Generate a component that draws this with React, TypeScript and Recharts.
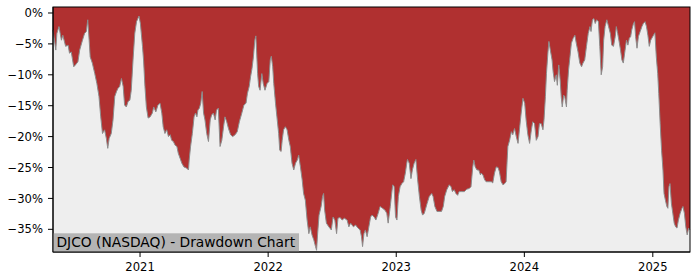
import React from 'react';
import { AreaChart, Area, XAxis, YAxis, CartesianGrid } from 'recharts';

const dates: string[] = [
  '2020-04-28','2020-05-06','2020-05-09','2020-05-15','2020-05-22','2020-05-26','2020-06-03','2020-06-10','2020-06-14','2020-06-19',
  '2020-06-26','2020-07-01','2020-07-08','2020-07-13','2020-07-21','2020-07-27','2020-08-01','2020-08-05','2020-08-09','2020-08-12',
  '2020-08-18','2020-08-25','2020-08-31','2020-09-06','2020-09-11','2020-09-16','2020-09-22','2020-09-27','2020-10-01','2020-10-05',
  '2020-10-11','2020-10-16','2020-10-21','2020-10-26','2020-10-30','2020-11-04','2020-11-09','2020-11-14','2020-11-18','2020-11-23',
  '2020-11-28','2020-12-03','2020-12-07','2020-12-12','2020-12-17','2020-12-22','2020-12-29','2021-01-02','2021-01-08','2021-01-11',
  '2021-01-15','2021-01-19','2021-01-24','2021-01-30','2021-02-05','2021-02-09','2021-02-15','2021-02-21','2021-02-27',
  '2021-03-04','2021-03-08','2021-03-13','2021-03-18','2021-03-23','2021-03-28','2021-04-01','2021-04-06','2021-04-11','2021-04-16',
  '2021-04-20','2021-04-25','2021-04-30','2021-05-06','2021-05-14','2021-05-19','2021-05-21','2021-05-25','2021-05-30','2021-06-04',
  '2021-06-08','2021-06-12','2021-06-15','2021-06-19','2021-06-23','2021-06-27','2021-07-01','2021-07-05','2021-07-10','2021-07-15',
  '2021-07-20','2021-07-24','2021-07-29','2021-08-03','2021-08-07','2021-08-12','2021-08-17','2021-08-22','2021-08-27','2021-08-31',
  '2021-09-05','2021-09-10','2021-09-16','2021-09-22','2021-09-29','2021-10-05','2021-10-11','2021-10-18','2021-10-24','2021-10-30',
  '2021-11-03','2021-11-08','2021-11-12','2021-11-16','2021-11-20','2021-11-24','2021-11-27','2021-11-29','2021-12-02','2021-12-05',
  '2021-12-09','2021-12-14','2021-12-18','2021-12-23','2021-12-29',
  '2022-01-03','2022-01-07','2022-01-10','2022-01-14','2022-01-17','2022-01-22','2022-01-26','2022-01-31','2022-02-03','2022-02-07',
  '2022-02-10','2022-02-14','2022-02-19','2022-02-24','2022-03-01','2022-03-05','2022-03-10','2022-03-15','2022-03-20','2022-03-25',
  '2022-03-29','2022-04-03','2022-04-08','2022-04-12','2022-04-17','2022-04-22','2022-04-27','2022-05-01','2022-05-06','2022-05-11',
  '2022-05-16','2022-05-19','2022-05-22','2022-05-26','2022-06-01','2022-06-05','2022-06-08','2022-06-11','2022-06-16','2022-06-23',
  '2022-06-30','2022-07-05','2022-07-10','2022-07-15','2022-07-19','2022-07-25','2022-07-31','2022-08-06','2022-08-14','2022-08-19',
  '2022-08-24','2022-09-01','2022-09-07','2022-09-14','2022-09-20','2022-09-24','2022-09-27','2022-10-01','2022-10-05','2022-10-10',
  '2022-10-15','2022-10-20','2022-10-24','2022-10-30',
  '2022-11-04','2022-11-10','2022-11-16','2022-11-23','2022-11-30','2022-12-05','2022-12-09','2022-12-15','2022-12-19','2022-12-22',
  '2022-12-26','2022-12-30','2023-01-03','2023-01-07','2023-01-12','2023-01-17','2023-01-22','2023-01-27','2023-01-31','2023-02-02',
  '2023-02-07','2023-02-12','2023-02-16','2023-02-21','2023-02-26','2023-03-03','2023-03-08','2023-03-13','2023-03-17','2023-03-22',
  '2023-03-30','2023-04-05','2023-04-12','2023-04-16','2023-04-21','2023-04-27','2023-05-03','2023-05-10','2023-05-15','2023-05-19',
  '2023-05-25','2023-06-01','2023-06-06','2023-06-10','2023-06-15','2023-06-20','2023-06-25','2023-06-29','2023-07-06','2023-07-14',
  '2023-07-21','2023-07-28','2023-08-02','2023-08-07','2023-08-10','2023-08-14','2023-08-19','2023-08-24','2023-08-29','2023-08-31',
  '2023-09-05','2023-09-10','2023-09-14','2023-09-21','2023-09-29','2023-10-03','2023-10-08','2023-10-13','2023-10-18','2023-10-22',
  '2023-10-27','2023-11-01','2023-11-06','2023-11-10','2023-11-13','2023-11-15','2023-11-20','2023-11-25','2023-11-29','2023-12-04',
  '2023-12-09','2023-12-14','2023-12-18','2023-12-23','2023-12-28','2024-01-02','2024-01-06','2024-01-11','2024-01-16','2024-01-21',
  '2024-01-25','2024-01-30','2024-02-04','2024-02-09','2024-02-13','2024-02-18','2024-02-23','2024-02-26','2024-03-01','2024-03-04',
  '2024-03-08','2024-03-11','2024-03-15','2024-03-20','2024-03-23','2024-03-27','2024-04-01','2024-04-04','2024-04-08','2024-04-12',
  '2024-04-15','2024-04-18','2024-04-22','2024-04-25','2024-04-30','2024-05-02','2024-05-06','2024-05-10','2024-05-14','2024-05-19',
  '2024-05-24','2024-05-28','2024-06-02','2024-06-07','2024-06-12','2024-06-16','2024-06-21','2024-06-26','2024-07-01',
  '2024-07-06','2024-07-09','2024-07-13','2024-07-17','2024-07-21','2024-07-25','2024-07-30','2024-08-03','2024-08-07','2024-08-11',
  '2024-08-14','2024-08-18','2024-08-23','2024-08-28','2024-09-02','2024-09-06','2024-09-11','2024-09-16','2024-09-19','2024-09-23',
  '2024-09-27','2024-10-01','2024-10-05','2024-10-09','2024-10-14','2024-10-18','2024-10-22','2024-10-26','2024-10-30','2024-11-02',
  '2024-11-07','2024-11-10','2024-11-13','2024-11-17','2024-11-21','2024-11-26','2024-12-01','2024-12-05','2024-12-10','2024-12-14',
  '2024-12-18','2024-12-22','2024-12-26','2024-12-29','2025-01-03','2025-01-07','2025-01-11','2025-01-15','2025-01-18','2025-01-22',
  '2025-01-26','2025-01-30','2025-02-02','2025-02-06','2025-02-10','2025-02-13','2025-02-16','2025-02-19','2025-02-23','2025-02-27',
  '2025-03-03','2025-03-07','2025-03-11','2025-03-15','2025-03-20','2025-03-25','2025-03-28','2025-04-01','2025-04-05','2025-04-09',
  '2025-04-13','2025-04-17',
];

const drawdown: number[] = [
  -2.75,-6.0,-3.3,-2.2,-4.4,-3.6,-5.4,-5.2,-6.5,-6.3,
  -8.7,-8.4,-7.9,-6.0,-4.4,-3.3,-3.0,-1.1,-4.4,-7.1,
  -8.1,-9.8,-11.4,-13.5,-16.8,-19.5,-18.9,-20.3,-21.9,-20.3,
  -19.5,-17.3,-13.5,-12.7,-12.2,-11.9,-10.6,-11.9,-14.9,-15.2,
  -14.3,-14.1,-12.5,-7.6,-3.3,-1.4,-0.5,-1.7,-5.4,-7.6,
  -11.9,-15.2,-17.0,-16.8,-16.2,-15.2,-16.0,-14.9,-14.6,
  -16.2,-18.4,-19.5,-18.9,-20.0,-19.7,-20.6,-20.8,-21.4,-21.6,
  -22.7,-23.5,-24.3,-24.9,-25.1,-25.4,-23.8,-21.6,-19.5,-16.8,
  -16.2,-16.8,-15.7,-15.4,-14.6,-12.7,-16.2,-17.3,-19.5,-20.8,
  -17.3,-16.5,-16.2,-17.3,-15.7,-15.4,-21.6,-20.6,-18.4,-16.8,
  -17.6,-18.7,-19.7,-20.0,-19.7,-19.2,-17.6,-16.2,-14.9,-14.6,
  -13.0,-11.9,-10.3,-9.0,-7.1,-4.4,-3.7,-6.0,-9.8,-11.9,
  -12.5,-9.8,-11.4,-12.5,-11.4,
  -11.1,-7.6,-7.0,-8.7,-11.4,-14.6,-16.8,-19.5,-22.2,-22.4,
  -20.6,-18.9,-18.4,-18.9,-20.6,-21.6,-24.3,-25.4,-24.3,-23.8,
  -23.0,-24.9,-27.0,-29.2,-30.3,-33.5,-35.7,-34.6,-35.9,-36.7,
  -37.8,-38.4,-35.7,-32.7,-31.3,-29.7,-29.2,-31.9,-34.0,-34.6,
  -35.1,-33.0,-33.5,-35.7,-33.2,-33.1,-33.5,-33.2,-33.5,-34.6,
  -34.0,-34.6,-34.3,-34.8,-35.1,-36.2,-37.8,-35.7,-35.1,-36.2,
  -34.6,-33.0,-32.7,-33.0,
  -33.5,-32.5,-31.3,-31.6,-31.9,-32.4,-34.0,-31.3,-29.2,-27.8,
  -28.1,-33.0,-33.5,-29.7,-28.1,-27.6,-27.3,-25.9,-24.3,-23.7,
  -24.3,-26.8,-25.4,-24.3,-23.7,-27.0,-29.7,-31.9,-32.7,-32.4,
  -30.8,-29.7,-29.2,-29.7,-31.3,-32.1,-32.1,-32.1,-31.3,-29.7,
  -28.6,-27.8,-28.1,-28.9,-28.6,-29.2,-29.5,-28.9,-28.9,-28.9,
  -28.5,-28.4,-28.1,-24.9,-23.8,-24.9,-25.4,-25.4,-26.2,-25.9,
  -26.2,-27.0,-27.3,-27.3,-27.3,-27.5,-25.9,-24.9,-25.0,-25.7,
  -27.3,-27.8,-27.6,-27.3,-23.8,-21.6,-20.6,-19.2,-19.7,-18.7,
  -20.0,-21.1,-18.9,-16.2,-13.8,-14.6,-17.3,-19.7,-21.1,-18.9,
  -17.6,-17.9,-20.6,-20.0,-17.9,-17.9,-18.9,-17.3,-13.5,-9.8,
  -6.5,-4.6,-6.0,-7.6,-9.5,-11.1,-10.0,-11.7,-8.4,-10.8,
  -13.5,-15.2,-13.3,-13.5,-15.2,-12.5,-9.2,-7.1,-4.9,-4.1,
  -3.6,-4.9,-6.3,-8.1,-8.7,-8.1,-7.6,-5.4,-3.3,
  -2.2,-3.0,-1.1,-0.9,-1.7,-1.1,-1.4,-5.4,-10.0,-8.7,
  -4.4,-2.2,-1.1,-2.2,-3.3,-5.2,-5.4,-3.8,-2.2,-3.3,
  -4.6,-6.0,-7.6,-8.1,-6.0,-4.4,-5.2,-4.1,-3.8,-2.75,
  -1.7,-1.4,-3.8,-5.7,-3.8,-3.0,-2.2,-1.7,-1.4,-2.2,
  -3.6,-5.4,-4.4,-4.1,-3.6,-3.2,-7.1,-9.8,-13.0,-17.9,
  -22.2,-25.4,-29.2,-30.3,-31.3,-31.6,-28.1,-27.6,-30.8,-32.4,
  -34.0,-34.6,-34.8,-33.5,-32.4,-31.6,-31.3,-32.4,-34.6,-35.9,
  -34.8,-35.1,
];

const yearTicks: string[] = ['2021-01-01', '2022-01-01', '2023-01-01', '2024-01-01', '2025-01-01'];
const percentTicks: number[] = [0, -5, -10, -15, -20, -25, -30, -35];
const title = 'DJCO (NASDAQ) - Drawdown Chart';

const data = dates.map((d, i) => ({ t: Date.parse(d), dd: drawdown[i] }));
const xTicks = yearTicks.map((d) => Date.parse(d));

const Y_MIN = -38.67;
const Y_MAX = 0.97;
const FONT = 'DejaVu Sans, sans-serif';

const fmtPct = (v: number) => (v < 0 ? '\u2212' + Math.abs(v) + '%' : v + '%');
const fmtYear = (v: number) => String(new Date(v).getUTCFullYear());

// plot frame (matches the chart margins below)
const PLOT = { left: 53, top: 7, right: 690, bottom: 252 };

export default function App() {
  return (
    <div style={{ position: 'absolute', left: 0, top: 0, width: 700, height: 280, background: '#fff' }}>
      <AreaChart width={700} height={280} data={data} margin={{ top: PLOT.top, right: 700 - PLOT.right, bottom: 0, left: 0 }}>
        <CartesianGrid fill="#b03030" horizontal={false} vertical={false} />
        <XAxis
          dataKey="t"
          type="number"
          scale="time"
          domain={['dataMin', 'dataMax']}
          ticks={xTicks}
          tickFormatter={fmtYear}
          height={280 - PLOT.bottom}
          tickSize={5}
          tickMargin={6}
          stroke="#000"
          tick={{ fill: '#000', fontSize: 11.6, fontFamily: FONT }}
          tickLine={{ stroke: '#000' }}
          axisLine={{ stroke: '#000' }}
        />
        <YAxis
          type="number"
          domain={[Y_MIN, Y_MAX]}
          allowDataOverflow
          ticks={percentTicks}
          tickFormatter={fmtPct}
          width={PLOT.left}
          tickSize={5}
          tickMargin={5}
          stroke="#000"
          tick={{ fill: '#000', fontSize: 11.6, fontFamily: FONT }}
          tickLine={{ stroke: '#000' }}
          axisLine={{ stroke: '#000' }}
        />
        <Area
          type="linear"
          dataKey="dd"
          baseValue={Y_MIN}
          fill="#eeeeee"
          fillOpacity={1}
          stroke="#8c8c8c"
          strokeWidth={1}
          dot={false}
          activeDot={false}
          isAnimationActive={false}
        />
      </AreaChart>
      <svg
        width={700}
        height={280}
        style={{ position: 'absolute', left: 0, top: 0, pointerEvents: 'none' }}
      >
        <rect x={PLOT.left} y={233.3} width={246} height={PLOT.bottom - 233.3} fill="#b4b4b4" />
        <text x={56.5} y={246.6} fontSize={13.8} fontFamily={FONT} fill="#000">
          {title}
        </text>
        <rect
          x={PLOT.left}
          y={PLOT.top}
          width={PLOT.right - PLOT.left}
          height={PLOT.bottom - PLOT.top}
          fill="none"
          stroke="#000"
          strokeWidth={1}
        />
      </svg>
    </div>
  );
}
